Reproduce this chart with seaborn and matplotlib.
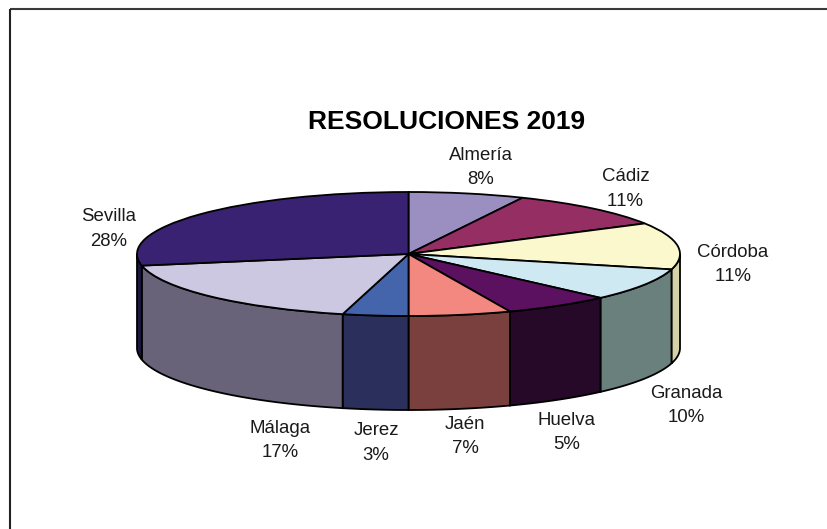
# Pie with a fake 3D wall, drawn on a squashed axes
import numpy as np
import seaborn as sns
import matplotlib
matplotlib.use('Agg')
import matplotlib.pyplot as plt

# Data
sedes = ['Almería', 'Cádiz', 'Córdoba', 'Granada', 'Huelva', 'Jaén', 'Jerez', 'Málaga', 'Sevilla']
porcentajes = [8, 11, 11, 10, 5, 7, 3, 17, 28]
# slice sizes as drawn (the perspective of the original skews them a bit)
partes = [6.9, 9.9, 12.2, 8.5, 6.4, 6.1, 3.9, 18.1, 28.0]

top_colors = ['#9A8FC0', '#952E62', '#FAF8CC', '#CFE9F2', '#5C1060', '#F28880', '#4464AC', '#CCC8E2', '#3A2272']
wall_colors = ['#66608A', '#601C40', '#D4D3A8', '#6A807C', '#260828', '#7A403E', '#2A2F5C', '#686378', '#1E1540']

sns.set_theme(style='white')
plt.rcParams['font.family'] = ['Liberation Sans', 'DejaVu Sans']
plt.rcParams['text.kerning_factor'] = 6

W, H = 828, 529
cx, cy, rx, ry, depth = 408.5, 254, 271.5, 62, 94


def fx(px):
    return (px - cx) / rx


def fy(py):
    return (cy - py) / ry


fig = plt.figure(figsize=(W / 100, H / 100), dpi=100)
ax = fig.add_axes([0, 0, 1, 1])

# top face
ax.pie(partes, colors=sns.color_palette(top_colors), startangle=90, counterclock=False,
       wedgeprops={'edgecolor': 'black', 'linewidth': 1.3, 'zorder': 3})
ax.set_aspect('auto')
ax.set_xlim(fx(0), fx(W))
ax.set_ylim(fy(H), fy(0))

# side wall, only the front half of the rim shows
d = depth / ry
edges = 90 - np.cumsum([0] + partes) * 3.6
for i in range(len(partes)):
    lo, hi = max(edges[i + 1], -180), min(edges[i], 0)
    if hi <= lo:
        continue
    t = np.radians(np.linspace(lo, hi, 60))
    xs = np.cos(t)
    ys = np.sin(t)
    ax.fill(np.r_[xs, xs[::-1]], np.r_[ys, ys[::-1] - d], facecolor=wall_colors[i],
            edgecolor='black', linewidth=1.3, zorder=2)

# labels
label_pos = [(481, 167.5), (625.5, 189), (733, 264.5), (686, 405.5), (567, 432.5), (465, 436.5), (376, 443), (280.5, 440.5), (109, 229)]
for name, pct, (px, py) in zip(sedes, porcentajes, label_pos):
    ax.text(fx(px), fy(py), f'{name}\n{pct}%', ha='center', va='center', fontsize=13.4,
            color='#1a1a1a', linespacing=1.6)

ax.text(fx(446.5), fy(122), 'RESOLUCIONES 2019', ha='center', va='center', fontsize=19,
        fontweight='bold', color='black')

# only the top and left sides of the chart border are in the picture
ax.plot([fx(9.5), fx(W)], [fy(9.5), fy(9.5)], color='#3a3a3a', linewidth=1.5, solid_capstyle='butt', clip_on=False)
ax.plot([fx(9.5), fx(9.5)], [fy(9), fy(H)], color='#222222', linewidth=1.5, solid_capstyle='butt', clip_on=False)

plt.savefig('out.png', dpi=100)
